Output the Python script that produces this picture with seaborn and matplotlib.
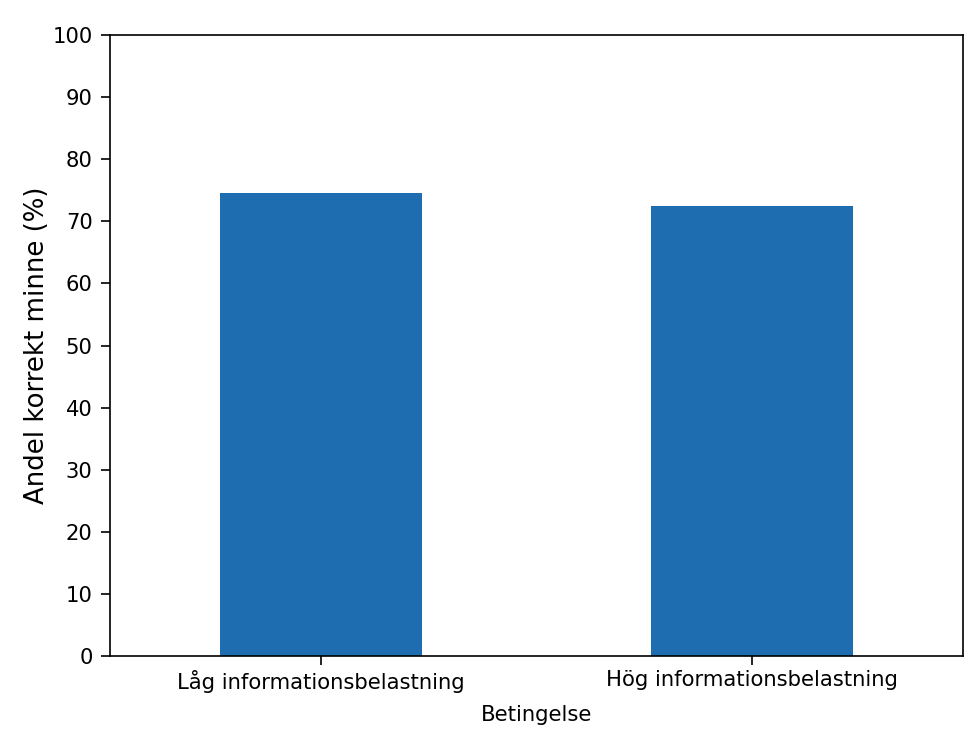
import matplotlib
matplotlib.use('Agg')
import matplotlib.pyplot as plt
import pandas as pd
import seaborn as sns

# Values
conditions = ['Låg informationsbelastning', 'Hög informationsbelastning']
percent_correct = [74.6, 72.5]
y_ticks = list(range(0, 101, 10))

df = pd.DataFrame({'Betingelse': conditions, 'Andel': percent_correct})

plt.rcParams['font.family'] = ['DejaVu Sans']

fig = plt.figure(figsize=(9.73, 7.38), dpi=100)
ax = fig.add_axes([0.113, 0.111, 0.877, 0.8416])

sns.barplot(data=df, x='Betingelse', y='Andel', color='#1d6db0', saturation=1,
            width=0.47, ax=ax)

ax.set_xlim(-0.49, 1.49)
ax.set_ylim(0, 100)
ax.set_yticks(y_ticks)
ax.tick_params(axis='both', labelsize=15.2, length=6.5, width=1.2)
ax.tick_params(axis='y', pad=6)
ax.set_xlabel('Betingelse', fontsize=15.2, labelpad=9)
ax.set_ylabel('Andel korrekt minne (%)', fontsize=18.7, labelpad=2)
for spine in ax.spines.values():
    spine.set_linewidth(1.2)

fig.savefig('out.png', dpi=100)
